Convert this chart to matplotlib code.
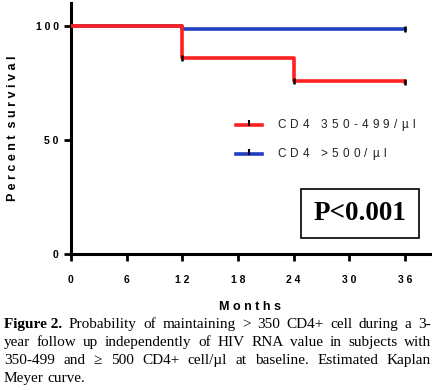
import matplotlib
matplotlib.use("Agg")
import matplotlib.pyplot as plt
import numpy as np

# ───────────────────────── Data ─────────────────────────
red_months = [0, 12, 24, 36]
red_surv = [100, 86, 76, 75.5]
blue_months = [0, 12, 36]
blue_surv = [100, 98.7, 98.7]
red_censor_x = [12, 24, 36]
red_censor_y = [86, 76, 75.5]
blue_censor_x = [36]
blue_censor_y = [98.7]
x_ticks = [0, 6, 12, 18, 24, 30, 36]
y_ticks = [0, 50, 100]
legend_labels = ["CD4 350-499/µl", "CD4 >500/µl"]
p_text = "P<0.001"
caption_lines = [
    [("Figure 2.", True), ("Probability", False), ("of", False), ("maintaining", False), (">", False),
     ("350", False), ("CD4+", False), ("cell", False), ("during", False), ("a", False), ("3-", False)],
    [(w, False) for w in "year follow up independently of HIV RNA value in subjects with".split()],
    [(w, False) for w in "350-499 and ≥ 500 CD4+ cell/µl at baseline. Estimated Kaplan".split()],
    [(w, False) for w in "Meyer curve.".split()],
]


def spaced(s):
    # letter-spaced look of the original (GraphPad style)
    return "   ".join(" ".join(list(w)) for w in s.split(" "))


W, H = 439, 390
fig = plt.figure(figsize=(W / 100, H / 100), dpi=100)
renderer = fig.canvas.get_renderer()


def tracked_text(x_px, y_px, s, track, **kw):
    # place characters one by one with extra letter spacing (pixels)
    x = x_px
    for ch in s:
        if ch == " ":
            x += track * 1.6
            continue
        t = fig.text(x / W, 1 - y_px / H, ch, va="center", **kw)
        x += t.get_window_extent(renderer).width + track


ax = fig.add_axes([71 / W, (H - 254) / H, (430 - 71) / W, (254 - 3) / H])

ax.step(blue_months, blue_surv, where="post", color="#1f3fbf", lw=2.6, zorder=2)
ax.step(red_months, red_surv, where="post", color="#ff2020", lw=2.6, zorder=3)
ax.plot(red_censor_x, red_censor_y, ls="none", marker="|", color="black", ms=5, mew=1.8, zorder=4)
ax.plot(blue_censor_x, blue_censor_y, ls="none", marker="|", color="black", ms=5, mew=1.8, zorder=4)

ax.set_xlim(0, 38.7)
ax.set_ylim(0, 110)
ax.set_xticks(x_ticks)
ax.set_yticks(y_ticks)
ax.set_xticklabels([spaced(str(t)) for t in x_ticks], fontsize=7.5, fontweight="bold",
                   family="Liberation Sans")
ax.set_yticklabels([spaced(str(t)) for t in y_ticks], fontsize=7.5, fontweight="bold",
                   family="Liberation Sans")
ax.tick_params(axis="both", direction="out", length=5, width=2)
ax.tick_params(axis="x", pad=10)
ax.tick_params(axis="y", pad=4)
for s in ["top", "right"]:
    ax.spines[s].set_visible(False)
for s in ["left", "bottom"]:
    ax.spines[s].set_linewidth(2.2)

ax.set_xlabel(spaced("Months"), fontsize=9, fontweight="bold", family="Liberation Sans", labelpad=12)
ax.set_ylabel(spaced("Percent survival").replace("   ", "  "), fontsize=9, fontweight="bold",
              family="Liberation Sans", labelpad=12)

# legend drawn by hand
for i, (lab, col) in enumerate(zip(legend_labels, ["#ff2020", "#1f3fbf"])):
    y_px = 125 + i * 29
    yl = 1 - y_px / H
    fig.lines.append(plt.Line2D([236 / W, 262 / W], [yl, yl],
                                color=col, lw=2.6, transform=fig.transFigure))
    fig.lines.append(plt.Line2D([249 / W, 249 / W], [yl + 4 / H, yl],
                                color="black", lw=1.5, transform=fig.transFigure))
    tracked_text(277, y_px, lab, 4.3, fontsize=8.5, family="Liberation Sans", color="#222222")

fig.text(360 / W, 1 - 213.5 / H, p_text, fontsize=19.5, fontweight="bold", family="Liberation Serif",
         ha="center", va="center",
         bbox=dict(boxstyle="square,pad=0.45", fc="white", ec="black", lw=1.2))

# justified caption
x0, x1 = 4, 431
for li, words in enumerate(caption_lines):
    yb = 1 - (328 + li * 18) / H
    texts = [fig.text(0, yb, w, fontsize=11, family="Liberation Serif",
                      fontweight="bold" if b else "normal", va="baseline") for w, b in words]
    widths = [t.get_window_extent(renderer).width for t in texts]
    if li < len(caption_lines) - 1:
        gap = (x1 - x0 - sum(widths)) / (len(words) - 1)
    else:
        gap = 3.5
    x = x0
    for t, w in zip(texts, widths):
        t.set_x(x / W)
        x += w + gap

fig.savefig("out.png", dpi=100)
